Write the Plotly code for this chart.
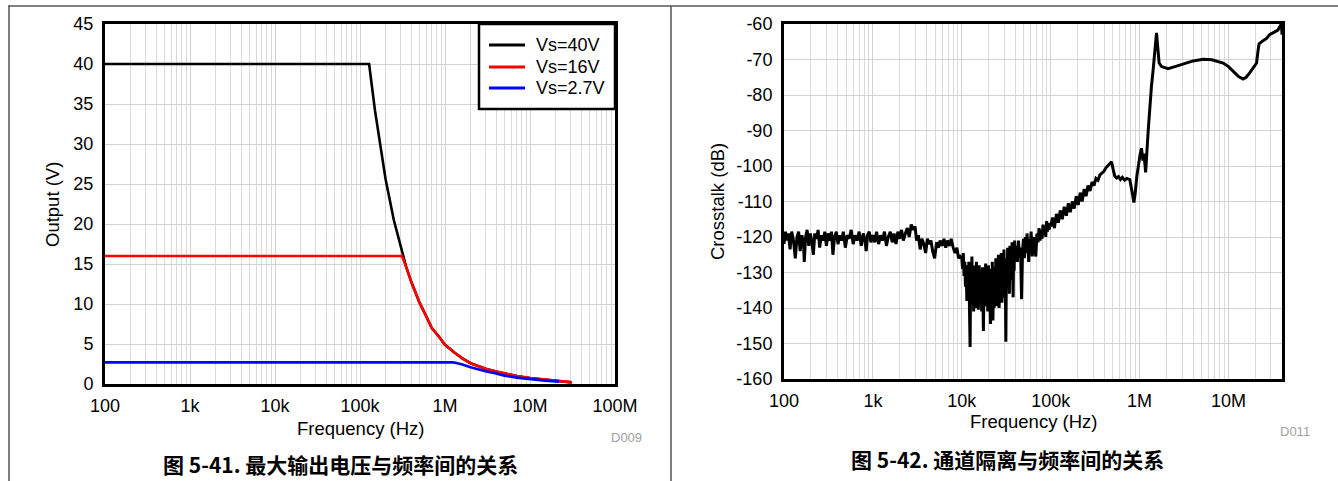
import plotly.graph_objects as go

W, H = 1338, 481

# ---------------------------------------------------------------------------
# Data: maximum output voltage vs frequency (left chart)
# ---------------------------------------------------------------------------
SERIES_NAMES = ["Vs=40V", "Vs=16V", "Vs=2.7V"]
SERIES_COLORS = ["#000000", "#ff0000", "#0000ff"]

freq_40v = [100, 128e3, 150e3, 175e3, 200e3, 250e3, 300e3, 350e3, 400e3, 500e3,
            600e3, 700e3, 850e3, 1e6, 1.3e6, 1.6e6, 2e6, 2.5e6, 3e6, 4e6,
            5e6, 7e6, 10e6, 15e6, 20e6, 31e6]
out_40v = [40, 40, 34.2, 29.3, 25.6, 20.5, 17.1, 14.6, 12.8, 10.2,
           8.5, 7.0, 5.9, 4.9, 3.9, 3.2, 2.6, 2.2, 1.9, 1.55,
           1.3, 1.0, 0.75, 0.55, 0.38, 0.2]

freq_16v = [100, 312e3, 350e3, 400e3, 500e3, 600e3, 700e3, 850e3, 1e6, 1.3e6,
            1.6e6, 2e6, 2.5e6, 3e6, 4e6, 5e6, 7e6, 10e6, 15e6, 20e6, 31e6]
out_16v = [16, 16, 14.6, 12.8, 10.2, 8.5, 7.0, 5.9, 4.9, 3.9,
           3.2, 2.6, 2.2, 1.9, 1.55, 1.3, 1.0, 0.75, 0.55, 0.38, 0.2]

freq_2v7 = [100, 1.25e6, 1.4e6, 1.6e6, 2e6, 2.5e6, 3e6, 4e6, 5e6, 7e6,
            10e6, 15e6, 22e6]
out_2v7 = [2.7, 2.7, 2.6, 2.45, 2.1, 1.8, 1.6, 1.3, 1.05, 0.8,
           0.6, 0.42, 0.3]

# ---------------------------------------------------------------------------
# Data: channel crosstalk vs frequency (right chart), read per decade
# ---------------------------------------------------------------------------
xt_freq_100 = [100, 104, 108, 112, 117, 122, 128, 134, 140, 146, 152, 159, 166,
               169, 175, 182, 190, 198, 206, 214, 222, 232, 242, 252, 263, 275,
               288, 300, 314, 328, 342, 355, 370, 388, 405, 425, 445, 465, 490,
               515, 540, 570, 600, 630, 665, 700, 740, 780, 815, 840, 870, 910,
               950]
xt_db_100 = [-122, -118.5, -121, -119, -123.5, -118.5, -121, -126, -120, -118.5,
             -124, -119.5, -122, -127, -120, -118, -122.5, -119, -121.5, -125,
             -119, -120.5, -118, -123, -119.5, -121, -118.5, -122.5, -119, -121,
             -118.5, -125, -120, -118.5, -122, -119.5, -121, -118.5, -123, -119.5,
             -120.5, -118, -122, -119.5, -121, -118.5, -122.5, -119, -121, -124,
             -119.5, -118.5, -121.5]

xt_freq_1k = [1000, 1050, 1100, 1160, 1220, 1280, 1350, 1420, 1490, 1570,
              1650, 1730, 1820, 1910, 2000, 2100, 2200, 2320, 2440, 2560,
              2700, 2840, 2980, 3100, 3250, 3400, 3560, 3740, 3920, 4100,
              4300, 4500, 4700, 4950, 5200, 5450, 5700, 6000, 6300, 6600,
              6900, 7250, 7600, 8000, 8400, 8800, 9200, 9600]
xt_db_1k = [-119.5, -121.5, -118.5, -122, -119.5, -121, -118.5, -122.5, -120, -118.5,
            -121.5, -119, -122, -118.5, -120.5, -118, -121, -119, -117.5, -120,
            -116.5, -118, -117, -121, -119.5, -123.5, -120.5, -122, -124.5, -120.5,
            -122, -121, -124, -126, -121.5, -123, -121, -122.5, -120.5, -123,
            -121, -122.5, -120.5, -123, -124.5, -123, -126, -125.5]

xt_freq_10k = [10000, 10200, 10400, 10600, 10800, 11000, 11200, 11400, 11600, 11800,
               12000, 12200, 12400, 12600, 12800, 13000, 13200, 13400, 13600, 13800,
               14000, 14200, 14400, 14600, 14800, 15000,
               15350, 15700, 16050, 16400, 16750, 17100, 17500, 17850, 18200, 18550,
               18900, 19250, 19600, 19950, 20300, 20650, 21000, 21350, 21700, 22050,
               22400, 22750, 23100, 23450, 23800, 24150, 24500, 24850,
               25300, 25800, 26300, 26800, 27300, 27800, 28300, 28800, 29300, 29800,
               30300, 30800, 31300, 31800, 32300, 32800, 33300, 33800, 34300, 34800,
               35300, 35800, 36300, 36800, 37300, 37800, 38300, 38800, 39300, 39800]
xt_db_10k = [-126, -129, -124.5, -131, -127, -134, -128, -138, -129.5, -135,
             -127, -140, -151, -127, -136, -125.5, -139, -130, -141, -128,
             -137.5, -131, -140, -127, -135, -129.5,
             -140.5, -128, -137, -131, -141, -128.5, -146.5, -130, -139.5, -127.5,
             -138, -131.5, -141, -128, -136, -130, -144.5, -129, -139, -127,
             -143.5, -131, -140, -128.5, -137, -126, -139.5, -130.5,
             -136, -125, -140, -128.5, -134, -124.5, -138.5, -129, -135, -123.5,
             -137, -128, -149.5, -126, -133.5, -123, -131, -125, -136, -122.5,
             -129, -124, -132, -121.5, -128, -137, -124, -129.5, -121, -126.5]

xt_freq_40k = [41000, 42200, 43400, 44600, 45800, 47000, 48200, 49400, 50600, 51800,
               53000, 54200, 55400, 56600, 57800, 59000, 60200, 62000, 64000, 66000,
               68000, 70000, 72000, 74000, 76000, 78000, 80000, 82000, 84000, 86000,
               88000, 90000, 92000, 94000, 96000, 98000]
xt_db_40k = [-122.5, -127, -121, -125.5, -123, -137.5, -124, -120.5, -126, -120,
             -124.5, -119, -123, -127, -120.5, -122.5, -118.5, -125.5, -120, -122.5,
             -125.5, -119, -121.5, -117.5, -121, -118, -120.5, -116.5, -119.5, -117,
             -120, -115.5, -118.5, -116, -118, -116.5]

xt_freq_100k = [100000, 105000, 110000, 116000, 122000, 128000, 135000, 142000,
                150000, 158000, 166000, 175000, 184000, 194000, 204000, 215000,
                226000, 238000, 250000, 263000, 277000, 292000, 307000, 323000,
                340000, 358000, 377000, 397000, 418000, 440000, 463000, 484000]
xt_db_100k = [-117, -114.5, -117.5, -113.5, -116, -112.5, -115, -111.5,
              -114, -110.5, -113, -110, -112, -108.5, -111, -107.5,
              -110, -106.5, -108.5, -105.5, -107, -104.5, -105.5, -103.5,
              -104, -102.5, -102, -101.5, -100.5, -100, -99.3, -98.8]

xt_freq_1m = [505000, 525000, 552000, 580000, 610000, 640000, 680000, 720000,
              776000, 810000, 840000, 863000, 890000, 930000, 970000, 1010000,
              1050000, 1090000, 1120000, 1170000, 1250000, 1310000, 1360000,
              1420000, 1480000, 1550000, 1600000, 1660000]
xt_db_1m = [-101, -102.8, -103.4, -103, -103.8, -103.2, -104, -103.5,
            -103.8, -106, -108.5, -110.3, -108, -103, -99, -97,
            -95, -98.5, -96.5, -101.8, -90, -82, -77.5,
            -73, -67, -62.5, -66.5, -71]

xt_freq_10m = [1770000, 2090000, 2500000, 3000000, 4000000, 5200000, 6500000,
               8700000, 10000000, 11700000, 13000000, 14600000, 15800000,
               17400000, 19500000, 20700000, 21500000, 22100000, 24500000,
               27000000, 29000000, 32000000, 36000000, 38700000, 39500000, 40000000]
xt_db_10m = [-72, -72.6, -72, -71.3, -70.4, -69.9, -70.1,
             -71, -72, -73.7, -74.8, -75.5, -75,
             -73.7, -71.8, -71, -67.5, -65.6, -64.7,
             -64, -63, -62.5, -61.7, -60.3, -60, -63]

crosstalk_freq = (xt_freq_100 + xt_freq_1k + xt_freq_10k + xt_freq_40k
                  + xt_freq_100k + xt_freq_1m + xt_freq_10m)
crosstalk_db = (xt_db_100 + xt_db_1k + xt_db_10k + xt_db_40k
                + xt_db_100k + xt_db_1m + xt_db_10m)

# Axis ticks
LEFT_XTICKS = [1e2, 1e3, 1e4, 1e5, 1e6, 1e7, 1e8]
LEFT_XLABELS = ["100", "1k", "10k", "100k", "1M", "10M", "100M"]
RIGHT_XTICKS = [1e2, 1e3, 1e4, 1e5, 1e6, 1e7]
RIGHT_XLABELS = ["100", "1k", "10k", "100k", "1M", "10M"]
LEFT_YTICKS = [0, 5, 10, 15, 20, 25, 30, 35, 40, 45]
RIGHT_YTICKS = [-160, -150, -140, -130, -120, -110, -100, -90, -80, -70, -60]
RIGHT_YLABELS = [str(v) for v in RIGHT_YTICKS]   # plain hyphen, not U+2212

CAPTION_LEFT = "图 5-41. 最大输出电压与频率间的关系"
CAPTION_RIGHT = "图 5-42. 通道隔离与频率间的关系"

# ---------------------------------------------------------------------------
# Styling
# ---------------------------------------------------------------------------
FONT = "Arial, Liberation Sans, sans-serif"
CJK_FONT = "Noto Sans CJK SC"
GRID = "#d2d2d2"
GRID_MINOR = "#dadada"
FRAME_W = 3


def px_x(x):
    return x / W


def px_y(y):
    return 1 - y / H


def minor_ticks(lo_exp, hi_exp):
    return [m * 10 ** e for e in range(lo_exp, hi_exp) for m in range(2, 10)]


def log_axis(domain, rng, tickvals, ticktext, anchor):
    return dict(
        type="log", domain=domain, range=rng, anchor=anchor, automargin=False,
        tickmode="array", tickvals=tickvals, ticktext=ticktext,
        showgrid=True, gridcolor=GRID, gridwidth=1,
        minor=dict(tickmode="array", tickvals=minor_ticks(2, 8),
                   showgrid=True, gridcolor=GRID_MINOR, gridwidth=1, ticks=""),
        showline=True, mirror=True, linecolor="black", linewidth=FRAME_W,
        ticks="outside", ticklen=3, tickcolor="rgba(0,0,0,0)",
        zeroline=False, tickfont=dict(size=18),
    )


def lin_axis(domain, rng, tickvals, ticktext, anchor):
    return dict(
        domain=domain, range=rng, anchor=anchor, automargin=False,
        tickmode="array", tickvals=tickvals, ticktext=ticktext,
        showgrid=True, gridcolor=GRID, gridwidth=1,
        showline=True, mirror=True, linecolor="black", linewidth=FRAME_W,
        ticks="outside", ticklen=5, tickcolor="rgba(0,0,0,0)",
        zeroline=False, tickfont=dict(size=18),
    )


fig = go.Figure()

# Left chart traces
for name, color, xs, ys in zip(SERIES_NAMES, SERIES_COLORS,
                               [freq_40v, freq_16v, freq_2v7],
                               [out_40v, out_16v, out_2v7]):
    fig.add_trace(go.Scatter(
        x=xs, y=ys, mode="lines", name=name,
        line=dict(color=color, width=2.6),
        xaxis="x", yaxis="y", showlegend=False,
    ))

# Right chart trace
fig.add_trace(go.Scatter(
    x=crosstalk_freq, y=crosstalk_db, mode="lines", name="Crosstalk",
    line=dict(color="black", width=3),
    xaxis="x2", yaxis="y2", showlegend=False,
))

left_xd = [px_x(105), px_x(615)]
left_yd = [px_y(384), px_y(24)]
right_xd = [px_x(784), px_x(1282)]
right_yd = [px_y(379), px_y(24)]

annotations = [
    dict(text="Frequency (Hz)", x=px_x(360), y=px_y(428), xanchor="center",
         font=dict(size=18.5)),
    dict(text="Frequency (Hz)", x=px_x(1033), y=px_y(421), xanchor="center",
         font=dict(size=18.5)),
    dict(text="Output (V)", x=px_x(53), y=px_y(205), xanchor="center",
         textangle=-90, font=dict(size=18.5)),
    dict(text="Crosstalk (dB)", x=px_x(717), y=px_y(202), xanchor="center",
         textangle=-90, font=dict(size=18.5)),
    dict(text="D009", x=px_x(626), y=px_y(437), xanchor="center",
         font=dict(size=13, color="#a0a0a0")),
    dict(text="D011", x=px_x(1295), y=px_y(431), xanchor="center",
         font=dict(size=13, color="#a0a0a0")),
    dict(text="<b>" + CAPTION_LEFT + "</b>", x=px_x(341), y=px_y(464),
         xanchor="center", font=dict(size=21, family=CJK_FONT)),
    dict(text="<b>" + CAPTION_RIGHT + "</b>", x=px_x(1007), y=px_y(459),
         xanchor="center", font=dict(size=21, family=CJK_FONT)),
]

# Legend box for the left chart, drawn by hand to match the boxed style
LEG_X0, LEG_X1, LEG_Y0, LEG_Y1 = 479, 615, 24, 109
LEG_ROWS = [45, 67, 88]
shapes = [
    dict(type="rect", xref="paper", yref="paper",
         x0=px_x(LEG_X0), x1=px_x(LEG_X1), y0=px_y(LEG_Y1), y1=px_y(LEG_Y0),
         fillcolor="white", line=dict(color="black", width=2.5), layer="above"),
]
for name, color, row in zip(SERIES_NAMES, SERIES_COLORS, LEG_ROWS):
    shapes.append(dict(type="line", xref="paper", yref="paper",
                       x0=px_x(489), x1=px_x(525), y0=px_y(row), y1=px_y(row),
                       line=dict(color=color, width=3), layer="above"))
    annotations.append(dict(text=name, x=px_x(534), y=px_y(row),
                            xanchor="left", font=dict(size=18)))

for a in annotations:
    a.update(xref="paper", yref="paper", yanchor="middle", showarrow=False)

# Page frame lines
frame_color = "#555555"
shapes += [
    dict(type="line", xref="paper", yref="paper", x0=px_x(8), x1=1,
         y0=px_y(6), y1=px_y(6), line=dict(color=frame_color, width=1.5)),
    dict(type="line", xref="paper", yref="paper", x0=px_x(9), x1=px_x(9),
         y0=px_y(6), y1=0, line=dict(color=frame_color, width=1.5)),
    dict(type="line", xref="paper", yref="paper", x0=px_x(671), x1=px_x(671),
         y0=px_y(6), y1=0, line=dict(color=frame_color, width=1.5)),
]

fig.update_layout(
    width=W, height=H,
    margin=dict(l=0, r=0, t=0, b=0, pad=0),
    paper_bgcolor="white", plot_bgcolor="white",
    font=dict(family=FONT, size=18, color="black"),
    xaxis=log_axis(left_xd, [2, 8], LEFT_XTICKS, LEFT_XLABELS, "y"),
    yaxis=lin_axis(left_yd, [0, 45], LEFT_YTICKS, None, "x"),
    xaxis2=log_axis(right_xd, [2, 7.602], RIGHT_XTICKS, RIGHT_XLABELS, "y2"),
    yaxis2=lin_axis(right_yd, [-160, -60], RIGHT_YTICKS, RIGHT_YLABELS, "x2"),
    showlegend=False,
    annotations=annotations,
    shapes=shapes,
)

fig.write_html(
    "out.html",
    config={"displayModeBar": False},
    post_script="document.body.style.margin='0';document.body.style.overflow='hidden';",
)
